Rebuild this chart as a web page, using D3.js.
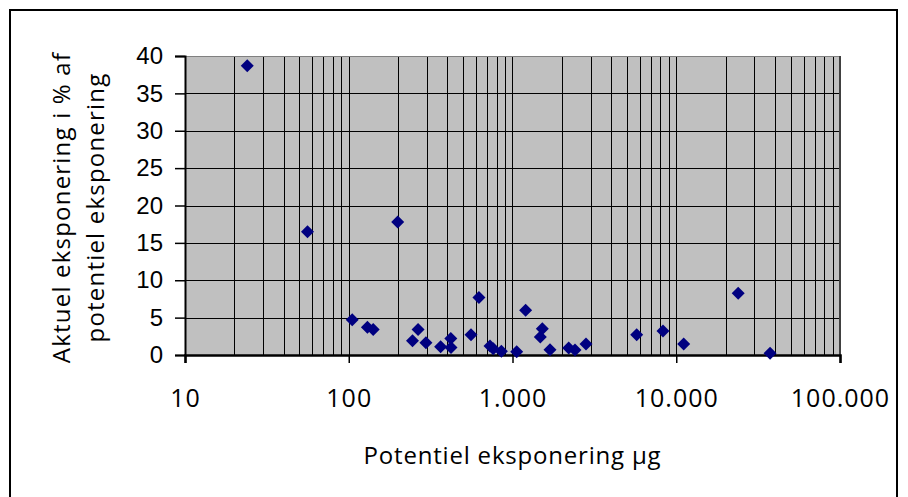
<!DOCTYPE html>
<html>
<head>
<meta charset="utf-8">
<script src="https://cdn.jsdelivr.net/npm/d3@7"></script>
<style>
body{margin:0;background:#fff;}
</style>
</head>
<body>
<script>
// potentiel eksponering (µg) og aktuel eksponering i %
var potentiel = [24,56,199,105,130,141,245,265,296,364,420,421,558,624,729,763,855,
                 1061,1203,1521,1479,1694,2203,2409,2812,5733,8300,11100,23900,37400];
var aktuel    = [38.7,16.5,17.8,4.7,3.7,3.4,1.9,3.4,1.65,1.1,2.2,1.0,2.7,7.7,1.2,0.85,0.5,
                 0.45,6.0,3.5,2.4,0.7,0.95,0.67,1.47,2.72,3.2,1.47,8.25,0.22];
var xTicks = [10,100,1000,10000,100000];
var xTickLabels = ["10","100","1.000","10.000","100.000"];
var yTicks = [0,5,10,15,20,25,30,35,40];

var W = 908, H = 497;
var pLeft = 185, pRight = 840, pTop = 56, pBottom = 355;

var svg = d3.select("body").append("svg").attr("width",W).attr("height",H);

// frame
svg.append("rect").attr("x",10).attr("y",10).attr("width",887).attr("height",500)
    .attr("fill","#fff").attr("stroke","#000").attr("stroke-width",2);

var x = d3.scaleLog().domain([10,100000]).range([pLeft,pRight]);
var y = d3.scaleLinear().domain([0,40]).range([pBottom,pTop]);

svg.append("rect").attr("x",pLeft).attr("y",pTop).attr("width",pRight-pLeft).attr("height",pBottom-pTop)
    .attr("fill","#c0c0c0");

// minor vertical gridlines
var minor = [];
for (var k=10;k<100000;k*=10){ for (var m=1;m<10;m++){ if (k*m>10) minor.push(k*m); } }
svg.selectAll("line.vgrid").data(minor).enter().append("line")
    .attr("class","vgrid")
    .attr("x1",function(d){return Math.round(x(d))+0.5;})
    .attr("x2",function(d){return Math.round(x(d))+0.5;})
    .attr("y1",pTop).attr("y2",pBottom)
    .attr("stroke","#000").attr("stroke-width",1);

svg.selectAll("line.hgrid").data(yTicks.slice(1)).enter().append("line")
    .attr("class","hgrid")
    .attr("x1",pLeft).attr("x2",pRight)
    .attr("y1",function(d){return Math.round(y(d))+0.5;})
    .attr("y2",function(d){return Math.round(y(d))+0.5;})
    .attr("stroke",function(d){return d==40?"#808080":"#000";}).attr("stroke-width",1);

svg.append("line").attr("x1",pRight).attr("x2",pRight).attr("y1",pTop).attr("y2",pBottom)
    .attr("stroke","#404040").attr("stroke-width",2);

// axes
var yAxis = d3.axisLeft(y).tickValues(yTicks).tickSize(10).tickPadding(12);
var gy = svg.append("g").attr("transform","translate("+pLeft+",0)").call(yAxis);
gy.select(".domain").attr("stroke","#000").attr("stroke-width",2);
gy.selectAll(".tick line").attr("stroke-width",1.5);
gy.selectAll("text").attr("font-family","'Liberation Sans', Arial, sans-serif")
    .attr("font-size","24px").attr("fill","#000");

var xAxis = d3.axisBottom(x).tickValues(xTicks).tickSize(8).tickPadding(26)
    .tickFormat(function(d,i){return xTickLabels[i];});
var gx = svg.append("g").attr("transform","translate(0,"+pBottom+")").call(xAxis);
gx.select(".domain").attr("stroke","#000").attr("stroke-width",2.5);
gx.selectAll(".tick line").attr("stroke-width",1.5);
gx.selectAll("text").attr("font-family","'Open Sans', sans-serif")
    .attr("font-size","25px").attr("letter-spacing","1px").attr("fill","#000");

// points
var pts = potentiel.map(function(d,i){return [d,aktuel[i]];});
svg.selectAll("path.pt").data(pts).enter().append("path")
    .attr("class","pt")
    .attr("d","M0,-6.5L6.5,0L0,6.5L-6.5,0Z")
    .attr("transform",function(d){return "translate("+x(d[0])+","+y(d[1])+")";})
    .attr("fill","#000080");

// titles
svg.append("text").attr("x",(pLeft+pRight)/2).attr("y",464).attr("text-anchor","middle")
    .attr("font-family","'Open Sans', sans-serif").attr("font-size","24px")
    .attr("letter-spacing","0.8px")
    .text("Potentiel eksponering µg");

var yt = svg.append("text").attr("transform","translate(70,"+((pTop+pBottom)/2+2)+") rotate(-90)")
    .attr("text-anchor","middle")
    .attr("font-family","'Open Sans', sans-serif").attr("font-size","24px")
    .attr("letter-spacing","1.2px");
yt.append("tspan").attr("x",0).attr("dy",0).text("Aktuel eksponering i % af");
yt.append("tspan").attr("x",0).attr("dy",34).text("potentiel eksponering");
</script>
</body>
</html>
